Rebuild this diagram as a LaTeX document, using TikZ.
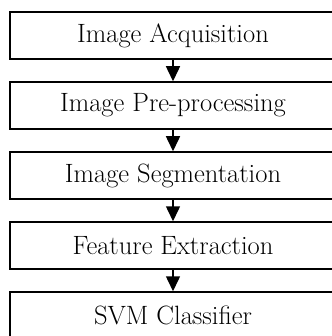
\documentclass[tikz,border=0pt]{standalone}
\usetikzlibrary{arrows.meta}
\begin{document}
\begin{tikzpicture}[x=1pt, y=1pt,
		stage/.style={draw, line width=1.5pt, rectangle, minimum width=326pt, minimum height=47pt, inner sep=0pt, font=\fontsize{26.5}{30}\selectfont},
		flow/.style={line width=1.5pt, -{Triangle[width=14pt, length=15pt]}}]
			\useasboundingbox (0,0) rectangle (331,-336);

			\draw node[stage] (1) at (173,-35.5) {Image Acquisition};
			\draw node[stage] (2) at (173,-105.5) {Image Pre-processing};
			\draw node[stage] (3) at (173,-175.5) {Image Segmentation};
			\draw node[stage] (4) at (173,-245.5) {Feature Extraction};
			\draw node[stage] (5) at (173,-315.5) {SVM Classifier};

			\draw[flow] (1) -- (2);
			\draw[flow] (2) -- (3);
			\draw[flow] (3) -- (4);
			\draw[flow] (4) -- (5);
		\end{tikzpicture}
\end{document}
